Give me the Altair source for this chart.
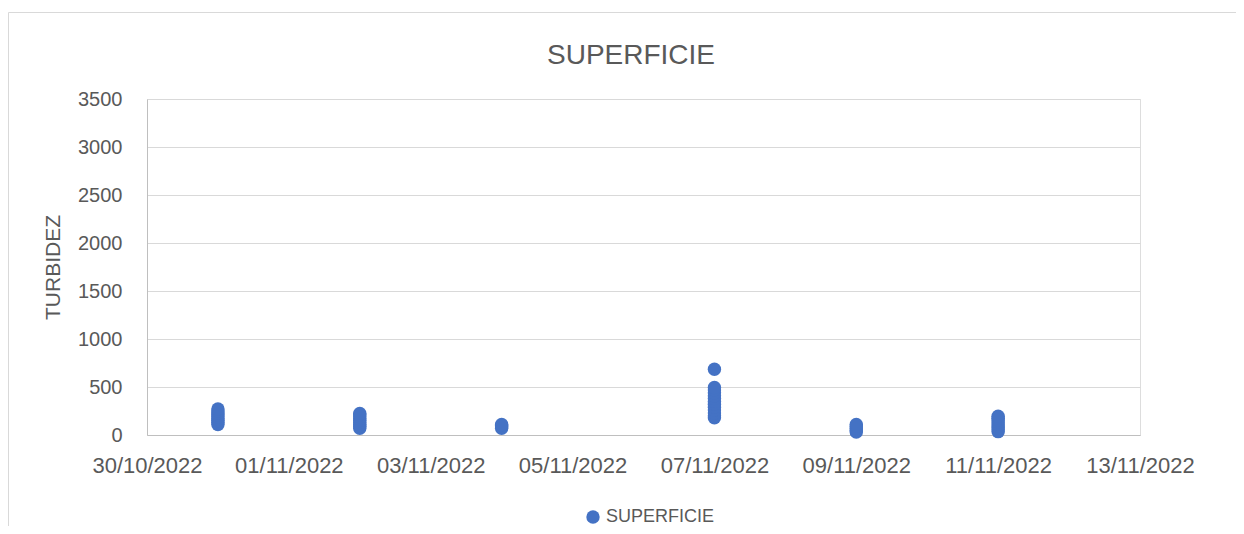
import altair as alt
import pandas as pd

# --- data ---
dates = ["2022-10-31", "2022-11-02", "2022-11-04", "2022-11-07", "2022-11-09", "2022-11-11"]
vals_3110 = [110, 130, 150, 170, 190, 210, 230, 250, 270]
vals_0211 = [70, 90, 110, 130, 150, 170, 190, 210, 225]
vals_0411 = [70, 85, 100, 110]
vals_0711 = [180, 200, 230, 260, 290, 320, 350, 380, 410, 440, 470, 495, 685]
vals_0911 = [30, 50, 70, 90, 110]
vals_1111 = [35, 55, 75, 95, 115, 135, 155, 175, 195]
series_name = "SUPERFICIE"
chart_title = "SUPERFICIE"
y_ticks = [0, 500, 1000, 1500, 2000, 2500, 3000, 3500]
x_tick_dates = [(2022, 10, 30), (2022, 11, 1), (2022, 11, 3), (2022, 11, 5),
                (2022, 11, 7), (2022, 11, 9), (2022, 11, 11), (2022, 11, 13)]

all_vals = [vals_3110, vals_0211, vals_0411, vals_0711, vals_0911, vals_1111]
rows = []
for d, vs in zip(dates, all_vals):
    for v in vs:
        rows.append({"fecha": d, "turbidez": v, "serie": series_name})
df = pd.DataFrame(rows)

FONT = "Liberation Sans"
GREY = "#595959"
W, H = 993, 336

def dt(t):
    return alt.DateTime(year=t[0], month=t[1], date=t[2], utc=True)

points = alt.Chart(df).mark_circle(size=180, opacity=1).encode(
    x=alt.X("fecha:T",
            scale=alt.Scale(type="utc", domain=[dt(x_tick_dates[0]), dt(x_tick_dates[-1])], nice=False),
            axis=alt.Axis(values=[dt(t) for t in x_tick_dates], format="%d/%m/%Y",
                          title=None, grid=False, ticks=False, labelFont=FONT, labelFontSize=22,
                          labelColor=GREY, labelPadding=20, domainColor="#bfbfbf",
                          labelFlush=False, labelOverlap=False)),
    y=alt.Y("turbidez:Q",
            scale=alt.Scale(domain=[0, 3500], nice=False),
            axis=alt.Axis(values=y_ticks, format="d", title="TURBIDEZ", grid=True, gridColor="#d9d9d9",
                          ticks=False, labelFont=FONT, labelFontSize=20, labelColor=GREY,
                          labelPadding=25, domainColor="#bfbfbf",
                          titleFont=FONT, titleFontSize=21, titleColor=GREY,
                          titleFontWeight="normal", titleAngle=270, titleX=-94, titleY=H / 2,
                          titleAlign="center", titleBaseline="middle")),
    color=alt.Color("serie:N", scale=alt.Scale(range=["#4472C4"]),
                    legend=alt.Legend(title=None, orient="none", legendX=437, legendY=409,
                                      symbolType="circle", symbolSize=180, symbolStrokeWidth=0,
                                      symbolOpacity=1, labelFont=FONT, labelFontSize=18,
                                      labelColor=GREY, labelOffset=4)),
)

one = pd.DataFrame({"a": [0]})
border = alt.Chart(one).mark_rule(color="#d9d9d9", strokeWidth=1).encode(
    x=alt.value(-138.5), x2=alt.value(W + 96), y=alt.value(-86.5)
)
border_left = alt.Chart(one).mark_rule(color="#d9d9d9", strokeWidth=1).encode(
    x=alt.value(-138.5), y=alt.value(-86.5), y2=alt.value(H + 91)
)
title = alt.Chart(one).mark_text(font=FONT, fontSize=28, color=GREY, align="center",
                                 baseline="alphabetic").encode(
    x=alt.value(484), y=alt.value(-35), text=alt.value(chart_title)
)

chart = alt.layer(border, border_left, title, points).properties(
    width=W, height=H,
    autosize=alt.AutoSizeParams(type="none"),
    padding={"left": 139, "top": 91, "right": 96, "bottom": 91},
).configure_view(stroke=None).configure(background="white")

chart.save("out.html", embed_options={"renderer": "svg", "actions": False})
